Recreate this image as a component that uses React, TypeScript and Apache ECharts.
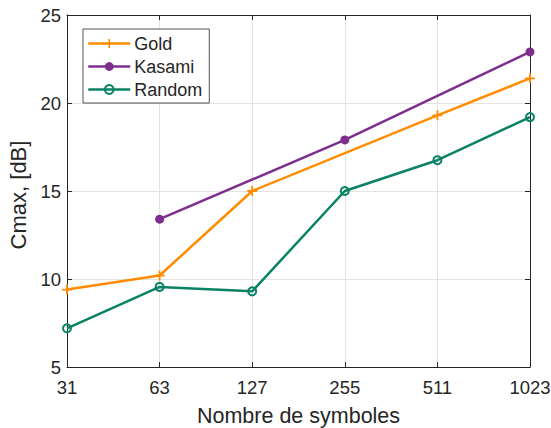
import React, { useEffect, useRef } from "react";
import * as echarts from "echarts";

const categories = ["31", "63", "127", "255", "511", "1023"];
const goldValues = [9.4, 10.2, 15.0, null, 19.3, 21.4];
const kasamiValues = [null, 13.4, null, 17.9, null, 22.9];
const randomValues = [7.2, 9.55, 9.3, 15.0, 16.75, 19.2];
const yTicks = { min: 5, max: 25, interval: 5 };

const TXT = "#262626";
const FONT = "'Liberation Sans', Arial, sans-serif";
const GOLD = "#FF8C00";
const KASAMI = "#7E2F8E";
const RANDOM = "#0A8266";
const PLUS = "path://M4.1,0h1.8v4.1h4.1v1.8h-4.1v4.1h-1.8v-4.1h-4.1v-1.8h4.1z";

export default function App() {
  const ref = useRef<HTMLDivElement>(null);
  useEffect(() => {
    if (!ref.current) return;
    const chart = echarts.init(ref.current, null, { renderer: "svg" });
    const axisCommon = {
      axisLine: { show: true, lineStyle: { color: TXT, width: 1 } },
      axisTick: { show: true, inside: true, length: 5, lineStyle: { color: TXT } },
    };
    chart.setOption({
      animation: false,
      textStyle: { fontFamily: FONT },
      grid: { left: 67, right: 21, top: 15, bottom: 61, containLabel: false, outerBoundsMode: "none" },
      legend: {
        orient: "vertical",
        left: 83,
        top: 29,
        backgroundColor: "#fff",
        borderColor: "#262626",
        borderWidth: 0.8,
        padding: [3, 7, 2, 4],
        itemWidth: 42,
        itemHeight: 11,
        itemGap: 0,
        lineStyle: { width: 2.5 },
        textStyle: { color: TXT, fontSize: 18, lineHeight: 23, fontFamily: FONT, padding: [0, 0, 0, -1] },
        data: ["Gold", "Kasami", "Random"],
      },
      xAxis: [
        {
          type: "category",
          data: categories,
          boundaryGap: false,
          name: "Nombre de symboles",
          nameLocation: "middle",
          nameGap: 38,
          nameTextStyle: { color: TXT, fontSize: 21.5, fontFamily: FONT },
          ...axisCommon,
          axisTick: { ...axisCommon.axisTick, alignWithLabel: true },
          axisLabel: {
            color: TXT,
            fontSize: 18.5,
            margin: 11,
            fontFamily: FONT,
            alignMinLabel: "center",
            alignMaxLabel: "center",
          },
          splitLine: { show: true, lineStyle: { color: "#e3e3e3", width: 1 } },
        },
        {
          type: "category",
          data: categories,
          boundaryGap: false,
          position: "top",
          ...axisCommon,
          axisLabel: { show: false },
          splitLine: { show: false },
        },
      ],
      yAxis: [
        {
          type: "value",
          min: yTicks.min,
          max: yTicks.max,
          interval: yTicks.interval,
          name: "Cmax, [dB]",
          nameLocation: "middle",
          nameGap: 30,
          nameTextStyle: { color: TXT, fontSize: 22, fontFamily: FONT, padding: [0, 8, 0, 0] },
          ...axisCommon,
          axisLabel: { color: TXT, fontSize: 18.5, margin: 6, fontFamily: FONT },
          splitLine: { show: true, lineStyle: { color: "#e3e3e3", width: 1 } },
        },
        {
          type: "value",
          min: yTicks.min,
          max: yTicks.max,
          interval: yTicks.interval,
          position: "right",
          ...axisCommon,
          axisLabel: { show: false },
          splitLine: { show: false },
        },
      ],
      series: [
        {
          name: "Gold",
          type: "line",
          data: goldValues,
          connectNulls: true,
          symbol: PLUS,
          symbolSize: 10,
          showAllSymbol: true,
          lineStyle: { color: GOLD, width: 2.5 },
          itemStyle: { color: GOLD },
          z: 3,
        },
        {
          name: "Kasami",
          type: "line",
          data: kasamiValues,
          connectNulls: true,
          symbol: "circle",
          symbolSize: 9,
          showAllSymbol: true,
          lineStyle: { color: KASAMI, width: 2.5 },
          itemStyle: { color: KASAMI },
          z: 3,
        },
        {
          name: "Random",
          type: "line",
          data: randomValues,
          connectNulls: true,
          symbol: "circle",
          symbolSize: 8,
          showAllSymbol: true,
          lineStyle: { color: RANDOM, width: 2.5 },
          itemStyle: { color: "rgba(255,255,255,0)", borderColor: RANDOM, borderWidth: 2 },
          z: 3,
        },
      ],
    });
    return () => chart.dispose();
  }, []);
  return <div ref={ref} style={{ width: 551, height: 428, position: "absolute", left: 0, top: 0 }} />;
}
